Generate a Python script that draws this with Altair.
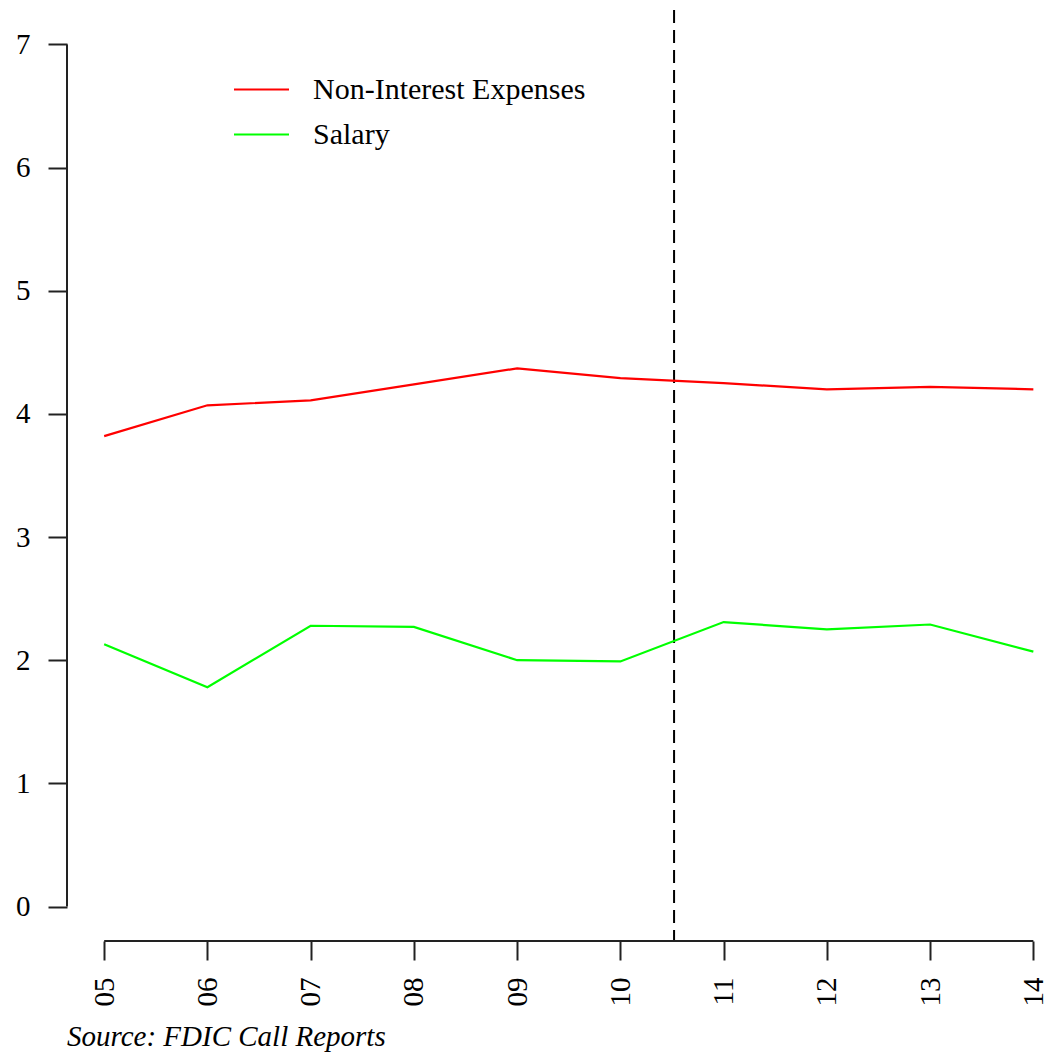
import altair as alt
import pandas as pd

# ---- data ----
years = [2005, 2006, 2007, 2008, 2009, 2010, 2011, 2012, 2013, 2014]
tick_labels = ["05", "06", "07", "08", "09", "10", "11", "12", "13", "14"]
non_interest = [3.82, 4.07, 4.11, 4.24, 4.37, 4.29, 4.25, 4.20, 4.22, 4.20]
salary = [2.13, 1.78, 2.28, 2.27, 2.00, 1.99, 2.31, 2.25, 2.29, 2.07]
series_names = ["Non-Interest Expenses", "Salary"]
series_colors = ["#FF0000", "#00FF00"]
y_ticks = [0, 1, 2, 3, 4, 5, 6, 7]
break_year = [2010.52]
source_text = "Source: FDIC Call Reports"

FONT = "Liberation Serif"
W, H = 987, 931
x_dom = [2004.64, 2014.2]
y_dom = [-0.28, 7.28]

rows = []
for i, yr in enumerate(years):
    rows.append({"year": yr, "value": non_interest[i], "series": series_names[0]})
    rows.append({"year": yr, "value": salary[i], "series": series_names[1]})
df = pd.DataFrame(rows)

label_expr = "[" + ",".join("'%s'" % t for t in tick_labels) + "][datum.value - %d]" % years[0]

xscale = alt.Scale(domain=x_dom, nice=False, zero=False)
yscale = alt.Scale(domain=y_dom, nice=False, zero=False)

x_axis = alt.Axis(values=years, labelExpr=label_expr, domain=False, grid=False,
                  tickSize=19, tickWidth=2, tickColor="#222222", labelAngle=270,
                  labelPadding=17, labelFontSize=29, labelFont=FONT,
                  labelColor="#000000", title=None)
y_axis = alt.Axis(values=y_ticks, format="d", domain=False, grid=False, tickSize=19,
                  tickWidth=2, tickColor="#222222", labelPadding=18, labelFontSize=29,
                  labelFont=FONT, labelColor="#000000", title=None)

lines = alt.Chart(df).mark_line(strokeWidth=2.2, clip=True).encode(
    x=alt.X("year:Q", scale=xscale, axis=x_axis),
    y=alt.Y("value:Q", scale=yscale, axis=y_axis),
    color=alt.Color("series:N",
                    scale=alt.Scale(domain=series_names, range=series_colors),
                    sort=series_names,
                    legend=alt.Legend(orient="none", legendX=166, legendY=57, title=None,
                                      symbolType="stroke", symbolSize=3025,
                                      symbolStrokeWidth=2, labelFontSize=30,
                                      labelFont=FONT, labelColor="#000000",
                                      labelOffset=23, labelLimit=600, clipHeight=45,
                                      rowPadding=0, padding=0)),
)

vline = alt.Chart(pd.DataFrame({"x": break_year})).mark_rule(
    color="#000000", strokeWidth=2, strokeDash=[13, 7]
).encode(x=alt.X("x:Q", scale=xscale))

yaxis_line = alt.Chart(pd.DataFrame({"y": [y_ticks[0]], "y2": [y_ticks[-1]]})).mark_rule(
    color="#222222", strokeWidth=2
).encode(x=alt.value(0), y=alt.Y("y:Q", scale=yscale), y2="y2:Q")

xaxis_line = alt.Chart(pd.DataFrame({"x": [years[0]], "x2": [years[-1]]})).mark_rule(
    color="#222222", strokeWidth=2
).encode(x=alt.X("x:Q", scale=xscale), x2="x2:Q", y=alt.value(H))

chart = alt.layer(vline, lines, yaxis_line, xaxis_line).properties(
    width=W, height=H,
    title=alt.TitleParams(source_text, orient="bottom", anchor="start", frame="group",
                          font=FONT, fontSize=29, fontStyle="italic", fontWeight="normal",
                          color="#000000", offset=17),
    autosize=alt.AutoSizeParams(type="none"),
    padding={"left": 67, "top": 10, "right": 0, "bottom": 118},
    background="#FFFFFF",
).configure_view(stroke=None)

chart.save("out.html", embed_options={"renderer": "svg", "actions": False})
